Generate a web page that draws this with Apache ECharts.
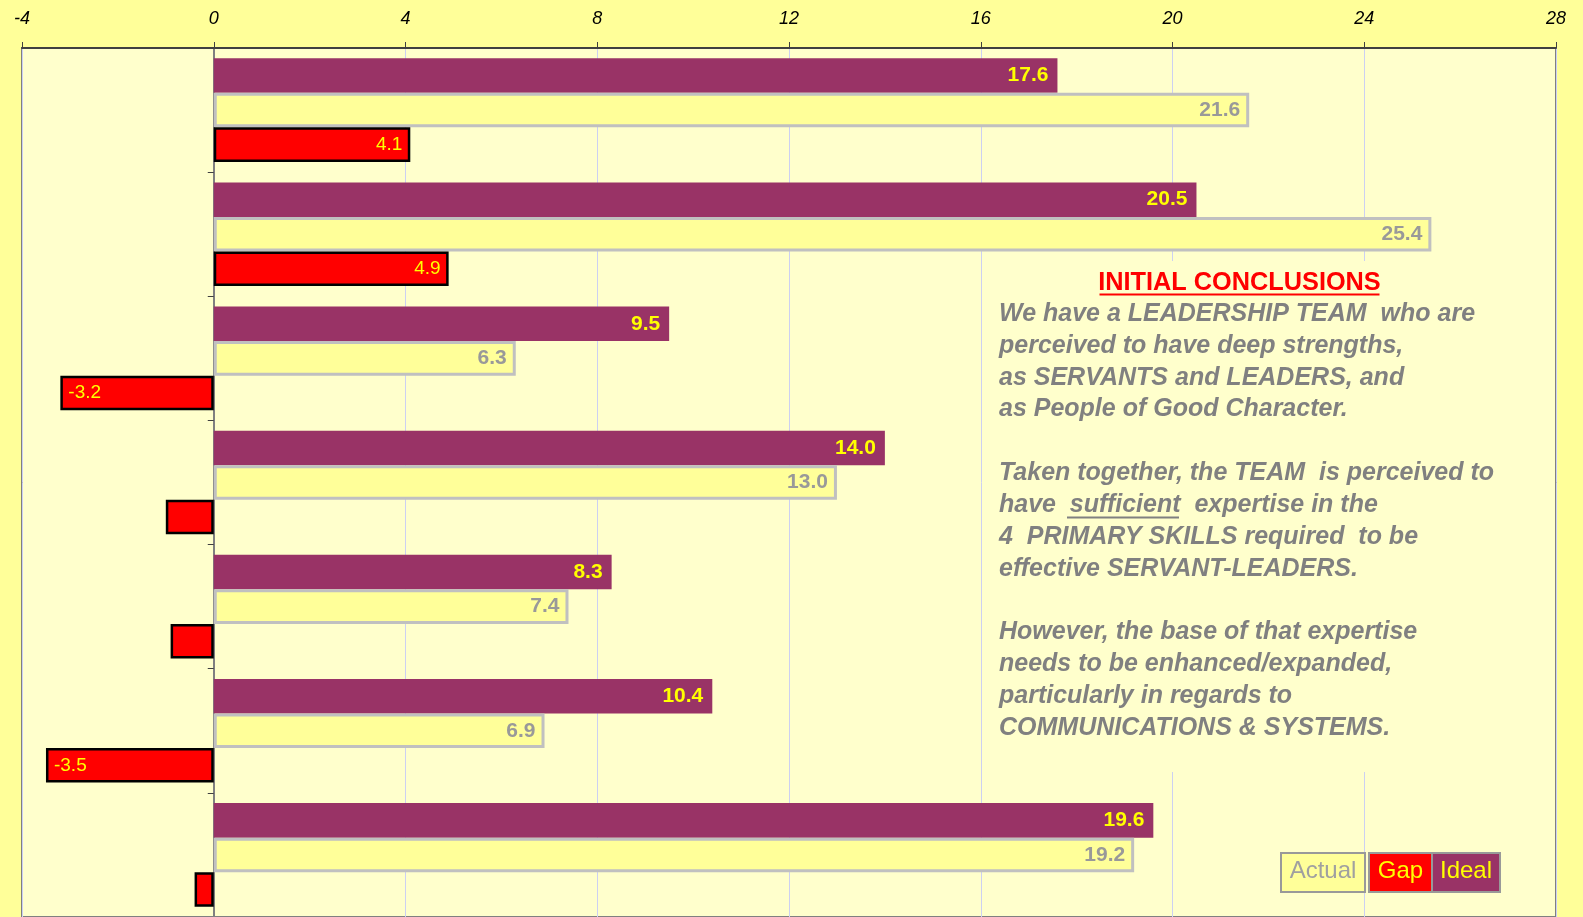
<!DOCTYPE html>
<html>
<head>
<meta charset="utf-8">
<script src="https://cdn.jsdelivr.net/npm/echarts@6/dist/echarts.min.js"></script>
<style>
html,body{margin:0;padding:0;background:#FFFF99;}
#chart{width:1583px;height:917px;}
</style>
</head>
<body>
<div id="chart"></div>
<script>
const categories = ['Group 1', 'Group 2', 'Group 3', 'Group 4', 'Group 5', 'Group 6', 'Group 7'];
const idealValues = [17.6, 20.5, 9.5, 14.0, 8.3, 10.4, 19.6];
const actualValues = [21.6, 25.4, 6.3, 13.0, 7.4, 6.9, 19.2];
const gapValues = [4.1, 4.9, -3.2, -1.0, -0.9, -3.5, -0.4];
const gapLabelShown = [true, true, true, false, false, true, false];
const xTicks = { min: -4, max: 28, interval: 4 };

const FONT = '"Liberation Sans", Arial, sans-serif';
const chart = echarts.init(document.getElementById('chart'), null, { renderer: 'canvas' });

const gapData = gapValues.map((v, i) => ({
  value: v,
  label: {
    show: gapLabelShown[i],
    position: v < 0 ? 'insideLeft' : 'insideRight'
  }
}));

const textLeft = 999;
const lineH = 31.86;
const firstTop = 301.5;
const lines = [
  'We have a LEADERSHIP TEAM  who are',
  'perceived to have deep strengths,',
  'as SERVANTS and LEADERS, and',
  'as People of Good Character.',
  '',
  'Taken together, the TEAM  is perceived to',
  'have  sufficient  expertise in the',
  '4  PRIMARY SKILLS required  to be',
  'effective SERVANT-LEADERS.',
  '',
  'However, the base of that expertise',
  'needs to be enhanced/expanded,',
  'particularly in regards to',
  'COMMUNICATIONS & SYSTEMS.'
];
const graphics = [];
// opaque text box hiding grid lines
graphics.push({
  type: 'rect', silent: true, z: 10,
  shape: { x: 983, y: 261, width: 547, height: 511 },
  style: { fill: '#FFFFCC' }
});
lines.forEach((t, i) => {
  if (!t) return;
  graphics.push({
    type: 'text', left: textLeft, top: firstTop + i * lineH, silent: true, z: 11,
    style: { text: t, fill: '#808080', font: 'italic bold 25px ' + FONT }
  });
});
// title
graphics.push({
  type: 'text', x: 1239.5, y: 283, silent: true, z: 11,
  style: { text: 'INITIAL CONCLUSIONS', fill: '#FF0000', font: 'bold 25.3px ' + FONT, align: 'center', verticalAlign: 'middle' }
});
graphics.push({
  type: 'line', silent: true, z: 11,
  shape: { x1: 1099.5, y1: 294.5, x2: 1379.5, y2: 294.5 },
  style: { stroke: '#FF0000', lineWidth: 2 }
});
// underline 'sufficient'
graphics.push({
  type: 'line', silent: true, z: 11,
  shape: { x1: 1067, y1: 517.5, x2: 1179, y2: 517.5 },
  style: { stroke: '#808080', lineWidth: 2 }
});

// legend boxes
const legendItems = [
  { name: 'Actual', x: 1281, w: 84, fill: '#FFFF99', color: '#A0A0A0' },
  { name: 'Gap', x: 1369, w: 63, fill: '#FF0000', color: '#FFFF00' },
  { name: 'Ideal', x: 1432, w: 68, fill: '#993366', color: '#FFFF00' }
];
legendItems.forEach(it => {
  graphics.push({
    type: 'rect', silent: true, z: 11,
    shape: { x: it.x, y: 853, width: it.w, height: 39 },
    style: { fill: it.fill, stroke: '#999999', lineWidth: 2 }
  });
  graphics.push({
    type: 'text', silent: true, z: 12, x: it.x + it.w / 2, y: 871,
    style: { text: it.name, fill: it.color, font: '24px ' + FONT, align: 'center', verticalAlign: 'middle' }
  });
});

const option = {
  backgroundColor: '#FFFF99',
  animation: false,
  grid: {
    left: 22, right: 27, top: 48, bottom: -2,
    show: true, backgroundColor: '#FFFFCC', borderColor: '#808080', borderWidth: 2
  },
  xAxis: {
    type: 'value', position: 'top',
    min: xTicks.min, max: xTicks.max, interval: xTicks.interval,
    axisLine: { show: true, lineStyle: { color: '#404040', width: 2 } },
    axisTick: { show: true, length: 6, lineStyle: { color: '#404040', width: 1 } },
    axisLabel: { color: '#000', fontStyle: 'italic', fontSize: 18, fontFamily: FONT, margin: 20 },
    splitLine: { show: true, lineStyle: { color: '#CCD0F2', width: 1 } }
  },
  yAxis: {
    type: 'category', data: categories, inverse: true,
    axisLine: { show: true, onZero: true, lineStyle: { color: '#808080', width: 2 } },
    axisTick: { show: true, length: 6, lineStyle: { color: '#404040', width: 1 } },
    axisLabel: { show: false },
    splitLine: { show: false }
  },
  series: [
    {
      name: 'Ideal', type: 'bar', data: idealValues,
      barGap: '0%', barCategoryGap: '16.5%',
      itemStyle: { color: '#993366' },
      label: {
        show: true, position: 'insideRight', distance: 9,
        color: '#FFFF00', fontWeight: 'bold', fontSize: 21, fontFamily: FONT,
        formatter: p => p.value.toFixed(1)
      }
    },
    {
      name: 'Actual', type: 'bar', data: actualValues,
      barGap: '0%', barCategoryGap: '16.5%',
      itemStyle: { color: '#FFFF99', borderColor: '#C0C0C0', borderWidth: 3 },
      label: {
        show: true, position: 'insideRight', distance: 9,
        color: '#999999', fontWeight: 'bold', fontSize: 21, fontFamily: FONT,
        formatter: p => p.value.toFixed(1)
      }
    },
    {
      name: 'Gap', type: 'bar', data: gapData,
      barGap: '0%', barCategoryGap: '16.5%',
      itemStyle: { color: '#FF0000', borderColor: '#000000', borderWidth: 2.5 },
      label: {
        show: true, distance: 8,
        color: '#FFFF00', fontSize: 19, fontFamily: FONT,
        formatter: p => p.value.toFixed(1)
      }
    }
  ],
  graphic: graphics
};
chart.setOption(option);
</script>
</body>
</html>
